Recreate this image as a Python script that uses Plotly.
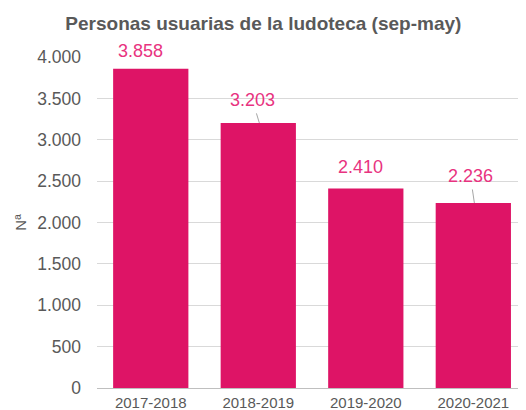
import plotly.graph_objects as go

categories = ["2017-2018", "2018-2019", "2019-2020", "2020-2021"]
values = [3858, 3203, 2410, 2236]
y_ticks = [0, 500, 1000, 1500, 2000, 2500, 3000, 3500, 4000]

def fmt(v):
    return f"{v:,}".replace(",", ".")

bar_color = "#DE1466"
label_color = "#E8337F"
grey = "#595959"

fig = go.Figure()
fig.add_trace(go.Bar(
    x=list(range(len(categories))), y=values,
    marker=dict(color=bar_color, line=dict(width=0)),
    width=0.7, hoverinfo="skip",
))

# label offsets (pixels) relative to bar top
label_dx = [-10, -7, -5, -4]
label_dy = [-18, -23, -22, -27]
leader = [False, True, False, True]
for i, v in enumerate(values):
    if leader[i]:
        fig.add_annotation(
            x=i + 0.01, y=v, xref="x", yref="y", text=fmt(v),
            showarrow=True, arrowhead=0, arrowwidth=1, arrowcolor="#A6A6A6",
            ax=label_dx[i], ay=label_dy[i], standoff=0, startstandoff=2,
            font=dict(size=18, color=label_color, family="Liberation Sans, Arial"),
        )
    else:
        fig.add_annotation(
            x=i, y=v, xref="x", yref="y", text=fmt(v), showarrow=False,
            xshift=label_dx[i], yshift=-label_dy[i],
            font=dict(size=18, color=label_color, family="Liberation Sans, Arial"),
        )

fig.update_layout(
    width=518, height=402,
    margin=dict(l=89, r=0, t=49, b=22),
    paper_bgcolor="white", plot_bgcolor="white",
    showlegend=False,
    separators=",.",
    title=dict(text="<b>Personas usuarias de la ludoteca (sep-may)</b>",
               x=0.493, xanchor="center", y=0.963, yanchor="middle",
               font=dict(size=19, color=grey, family="Liberation Sans, Arial")),
    font=dict(family="Liberation Sans, Arial", color=grey),
    xaxis=dict(
        tickmode="array", tickvals=list(range(len(categories))), ticktext=categories,
        range=[-0.5, 3.49], showgrid=False, zeroline=False,
        showline=True, linecolor="#BFBFBF", linewidth=1, automargin=False,
        ticks="", tickfont=dict(size=15, color=grey), ticklabelstandoff=1,
    ),
    yaxis=dict(
        range=[0, 4000], tickmode="array", tickvals=y_ticks,
        ticktext=[fmt(t) for t in y_ticks],
        showgrid=True, gridcolor="#D9D9D9", gridwidth=1, zeroline=False,
        showline=False, ticks="", ticklen=0, ticklabelstandoff=15,
        tickfont=dict(size=17.5, color=grey),
        title=dict(text="Nª", font=dict(size=15, color=grey), standoff=6),
    ),
)

fig.write_html("out.html")
